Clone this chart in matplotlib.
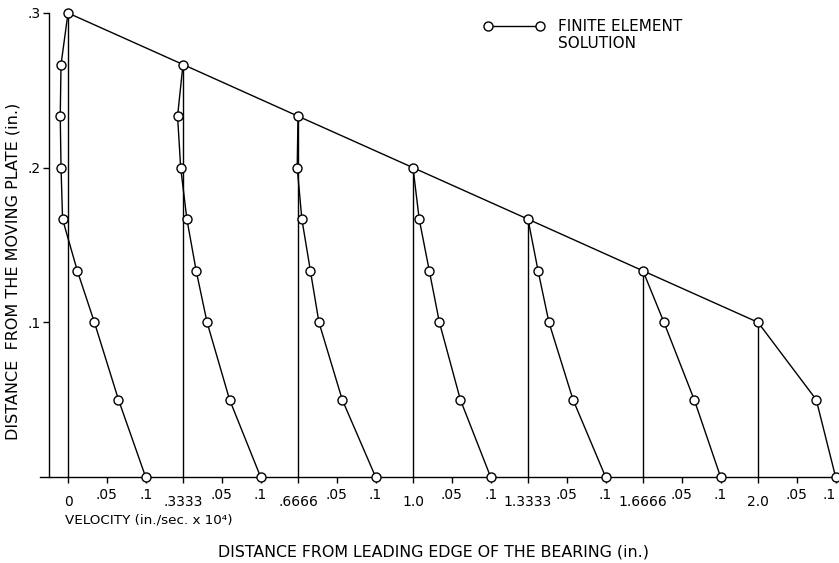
import numpy as np
import matplotlib
matplotlib.use('Agg')
import matplotlib.pyplot as plt
from matplotlib.lines import Line2D
from matplotlib.ticker import FixedLocator, FixedFormatter

# Stations along the bearing (in.) and film thickness at each station (in.)
stations = [0.0, 0.3333, 0.6666, 1.0, 1.3333, 1.6666, 2.0]
station_labels = ['0', '.3333', '.6666', '1.0', '1.3333', '1.6666', '2.0']
film_height = [0.3, 0.2667, 0.2333, 0.2, 0.1667, 0.1333, 0.1]

# Node heights from the moving plate (in.), profiles use the nodes up to the film height
node_y = [0.0, 0.05, 0.1, 0.1333, 0.1667, 0.2, 0.2333, 0.2667, 0.3]

# Finite element velocities (in./sec. x 10^4) at each station, bottom to top
vel_st0 = [0.1, 0.065, 0.034, 0.012, -0.007, -0.009, -0.010, -0.009, 0.0]
vel_st1 = [0.1, 0.060, 0.031, 0.017, 0.005, -0.003, -0.007, 0.0]
vel_st2 = [0.1, 0.057, 0.027, 0.016, 0.005, -0.001, 0.0]
vel_st3 = [0.1, 0.061, 0.034, 0.021, 0.008, 0.0]
vel_st4 = [0.1, 0.058, 0.027, 0.013, 0.0]
vel_st5 = [0.1, 0.066, 0.027, 0.0]
vel_st6 = [0.1, 0.075, 0.0]
profiles = [vel_st0, vel_st1, vel_st2, vel_st3, vel_st4, vel_st5, vel_st6]

vel_ticks = [0.05, 0.1]
vel_tick_labels = ['.05', '.1']
height_ticks = [0.1, 0.2, 0.3]
height_tick_labels = ['.1', '.2', '.3']

VEL_SCALE = 2.25  # inches of x-axis per unit of velocity

W, H = 839, 563
fig = plt.figure(figsize=(W / 100, H / 100), dpi=100)
ax = fig.add_axes([40 / W, 86 / H, 798 / W, 464 / H])

mk = dict(marker='o', ms=6.5, mfc='white', mec='k', mew=1.0)

# station lines and the bearing surface
ax.vlines(stations, 0, film_height, colors='k', lw=1.0)
ax.plot(stations, film_height, color='k', lw=1.0)

for s, vel in zip(stations, profiles):
    xs = s + VEL_SCALE * np.array(vel)
    ax.plot(xs, node_y[:len(vel)], color='k', lw=1.0, clip_on=False, zorder=3, **mk)

ax.set_xlim(-0.0812, 2.2319)
ax.set_ylim(0, 0.3)

for side in ['top', 'right']:
    ax.spines[side].set_visible(False)
ax.spines['left'].set_position(('data', -0.0551))
ax.spines['left'].set_linewidth(1.0)
ax.spines['bottom'].set_linewidth(1.0)

# x ticks: stations (major) and velocity scale (minor)
minor_pos = [s + VEL_SCALE * v for s in stations for v in vel_ticks]
minor_lab = [lab for s in stations for lab in vel_tick_labels]
ax.xaxis.set_major_locator(FixedLocator(stations))
ax.xaxis.set_major_formatter(FixedFormatter(station_labels))
ax.xaxis.set_minor_locator(FixedLocator(minor_pos))
ax.xaxis.set_minor_formatter(FixedFormatter(minor_lab))
ax.tick_params(axis='x', which='major', direction='out', length=4.5, width=1.0, pad=8.5, labelsize=10)
ax.tick_params(axis='x', which='minor', direction='out', length=4.5, width=1.0, pad=3.5, labelsize=10)
# last label sits on the right edge of the figure
ax.xaxis.get_minor_ticks()[-1].label1.set_horizontalalignment('right')

ax.set_yticks(height_ticks)
ax.set_yticklabels(height_tick_labels)
ax.tick_params(axis='y', direction='out', length=4, width=1.0, pad=2, labelsize=10)

ax.set_ylabel('DISTANCE  FROM THE MOVING PLATE (in.)', fontsize=11.5)
ax.yaxis.set_label_coords(-0.025, 0.444)
ax.set_xlabel('DISTANCE FROM LEADING EDGE OF THE BEARING (in.)', fontsize=11.4)
ax.xaxis.set_label_coords(0.4937, -0.145)
ax.text(0.0313, -0.0927, 'VELOCITY (in./sec. x 10\u2074)', transform=ax.transAxes,
        ha='left', va='center', fontsize=9.7)

handles = [Line2D([], [], color='k', lw=1.0, **mk), Line2D([], [], linestyle='none')]
ax.legend(handles, ['FINITE ELEMENT', 'SOLUTION'], numpoints=2, frameon=False,
          loc='upper left', bbox_to_anchor=(483.4 / W, 1 - 19 / H), bbox_transform=fig.transFigure,
          borderpad=0, borderaxespad=0, handlelength=4.0, handletextpad=0.88,
          labelspacing=0.1, fontsize=11)

fig.savefig('out.png', dpi=100)
